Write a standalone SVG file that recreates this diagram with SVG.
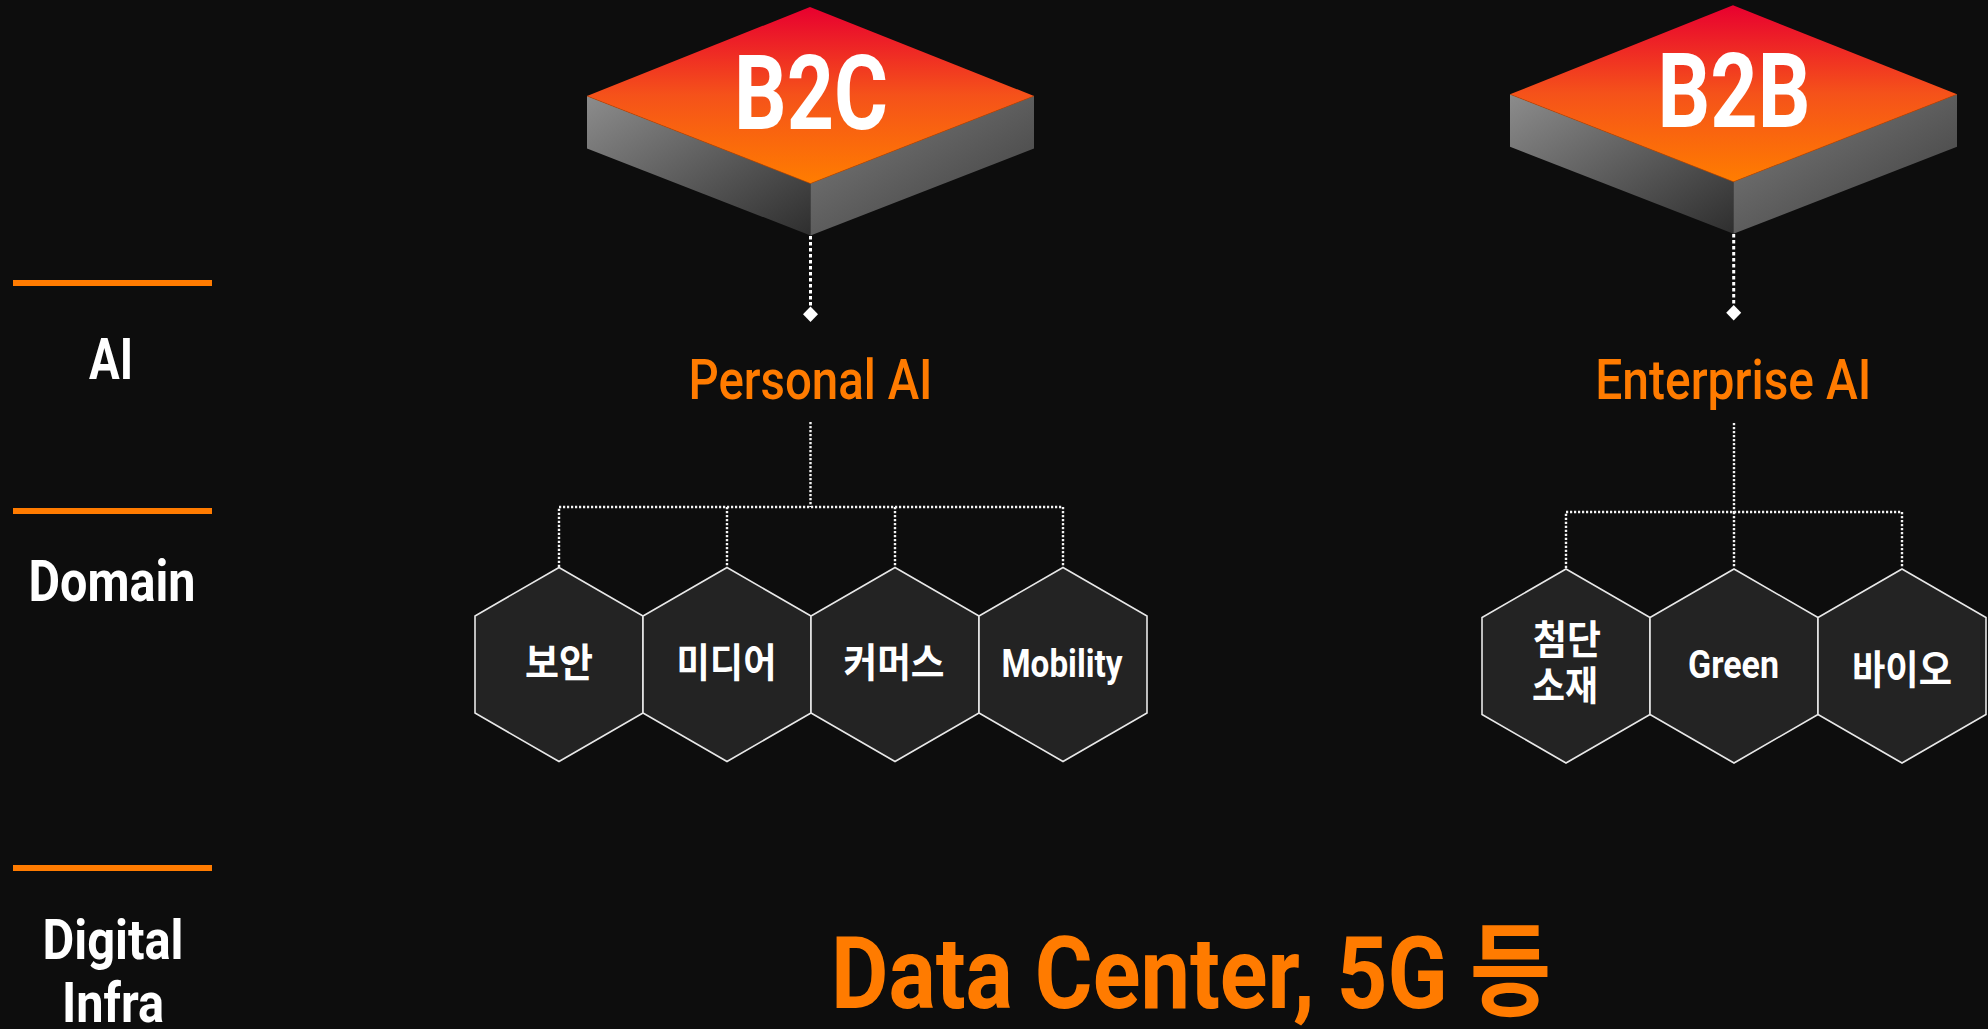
<svg xmlns="http://www.w3.org/2000/svg" width="1988" height="1029" viewBox="0 0 1988 1029">
<style>
.lat{font-family:"Liberation Sans Narrow","Roboto","Liberation Sans","Noto Sans CJK KR",sans-serif;font-weight:bold}
.med{font-weight:500}
.kor{font-family:"Noto Sans CJK KR","Noto Sans CJK SC",sans-serif;font-weight:bold}
.w{fill:#ffffff}
.o{fill:#ff7b00}
.hex{fill:#232323;stroke:#e8e8e8;stroke-width:1.6}
.bar{fill:#ff7b00}
.dotA{stroke:#ffffff;stroke-width:3;stroke-dasharray:3.5 2.5;fill:none}
.dotB{stroke:#f2f2f2;stroke-width:2.4;stroke-dasharray:2.2 1.8;fill:none}
</style>
<defs>
<linearGradient id="gTop" x1="0" y1="0" x2="0" y2="1">
<stop offset="0" stop-color="#e8002f"/>
<stop offset="0.5" stop-color="#f5521a"/>
<stop offset="1" stop-color="#ff7d00"/>
</linearGradient>
<linearGradient id="gLeft" x1="0" y1="0" x2="1" y2="1">
<stop offset="0" stop-color="#8c8c8c"/>
<stop offset="1" stop-color="#2e2e2e"/>
</linearGradient>
<linearGradient id="gRight" x1="0" y1="0" x2="1" y2="1">
<stop offset="0" stop-color="#7e7e7e"/>
<stop offset="1" stop-color="#3c3c3c"/>
</linearGradient>
<g id="slab">
<polygon points="0,89 223.5,176.5 223.5,228.5 0,141.5" fill="url(#gLeft)"/>
<polygon points="223.5,176.5 447,89 447,141.5 223.5,228.5" fill="url(#gRight)"/>
<polygon points="223,0 447,89 223.5,176.5 0,89" fill="url(#gTop)"/>
<polyline points="0,89 223.5,176.5 447,89" fill="none" stroke="#c94a00" stroke-width="0.8" opacity="0.7"/>
</g>
</defs>
<rect width="1988" height="1029" fill="#0d0d0d"/>

<g id="legend">
<rect class="bar" x="13" y="280" width="199" height="6"/>
<rect class="bar" x="13" y="508" width="199" height="6"/>
<rect class="bar" x="13" y="865" width="199" height="6"/>
<text class="lat w" x="111" y="379" font-size="57" text-anchor="middle" textLength="44" lengthAdjust="spacingAndGlyphs">AI</text>
<text class="lat w" x="112" y="601" font-size="57" text-anchor="middle" textLength="167" lengthAdjust="spacingAndGlyphs">Domain</text>
<text class="lat w" x="113" y="959" font-size="56" text-anchor="middle" textLength="141" lengthAdjust="spacingAndGlyphs">Digital</text>
<text class="lat w" x="113" y="1022" font-size="56" text-anchor="middle" textLength="102" lengthAdjust="spacingAndGlyphs">Infra</text>
</g>

<g id="b2c">
<use href="#slab" x="587" y="7"/>
<text class="lat w" x="811" y="129" font-size="103" text-anchor="middle" textLength="154" lengthAdjust="spacingAndGlyphs">B2C</text>
</g>
<g id="b2b">
<use href="#slab" x="1510" y="5.3"/>
<text class="lat w" x="1734" y="127" font-size="103" text-anchor="middle" textLength="153" lengthAdjust="spacingAndGlyphs">B2B</text>
</g>

<g id="personal-ai">
<text class="lat med o" x="810.5" y="399" font-size="56" text-anchor="middle" textLength="244" lengthAdjust="spacingAndGlyphs">Personal AI</text>
</g>
<g id="enterprise-ai">
<text class="lat med o" x="1733.3" y="399" font-size="56" text-anchor="middle" textLength="276" lengthAdjust="spacingAndGlyphs">Enterprise AI</text>
</g>

<g id="connectors">
<line class="dotA" x1="810.5" y1="236" x2="810.5" y2="307"/>
<polygon points="810.5,306.5 818,314.3 810.5,322 803,314.3" fill="#ffffff"/>
<line class="dotA" x1="1733.7" y1="234" x2="1733.7" y2="305"/>
<polygon points="1733.7,305 1741.2,312.7 1733.7,320.4 1726.2,312.7" fill="#ffffff"/>
<line class="dotB" x1="810.5" y1="422" x2="810.5" y2="507"/>
<polyline class="dotB" points="559,567 559,507 1063,507 1063,567"/>
<line class="dotB" x1="727" y1="507" x2="727" y2="567"/>
<line class="dotB" x1="895" y1="507" x2="895" y2="567"/>
<line class="dotB" x1="1734" y1="423" x2="1734" y2="512"/>
<polyline class="dotB" points="1566,568 1566,512 1902,512 1902,568"/>
<line class="dotB" x1="1734" y1="512" x2="1734" y2="568"/>
</g>

<g id="hex-security">
<polygon class="hex" points="559,567.5 643,616 643,713 559,761.5 475,713 475,616"/>
<text class="kor w" x="559" y="677" font-size="40" text-anchor="middle" textLength="68" lengthAdjust="spacingAndGlyphs">보안</text>
</g>
<g id="hex-media">
<polygon class="hex" points="727,567.5 811,616 811,713 727,761.5 643,713 643,616"/>
<text class="kor w" x="726.5" y="677" font-size="40" text-anchor="middle" textLength="100" lengthAdjust="spacingAndGlyphs">미디어</text>
</g>
<g id="hex-commerce">
<polygon class="hex" points="895,567.5 979,616 979,713 895,761.5 811,713 811,616"/>
<text class="kor w" x="894" y="677" font-size="40" text-anchor="middle" textLength="101" lengthAdjust="spacingAndGlyphs">커머스</text>
</g>
<g id="hex-mobility">
<polygon class="hex" points="1063,567.5 1147,616 1147,713 1063,761.5 979,713 979,616"/>
<text class="lat w" x="1062" y="677" font-size="39" text-anchor="middle" textLength="121" lengthAdjust="spacingAndGlyphs">Mobility</text>
</g>

<g id="hex-materials">
<polygon class="hex" points="1566,569 1650,617.5 1650,714.5 1566,763 1482,714.5 1482,617.5"/>
<text class="kor w" font-size="40" text-anchor="middle"><tspan x="1567" y="654" textLength="68" lengthAdjust="spacingAndGlyphs">첨단</tspan><tspan x="1565" y="700" textLength="66" lengthAdjust="spacingAndGlyphs">소재</tspan></text>
</g>
<g id="hex-green">
<polygon class="hex" points="1734,569 1818,617.5 1818,714.5 1734,763 1650,714.5 1650,617.5"/>
<text class="lat w" x="1733.5" y="678" font-size="39" text-anchor="middle" textLength="91" lengthAdjust="spacingAndGlyphs">Green</text>
</g>
<g id="hex-bio">
<polygon class="hex" points="1902,569 1986,617.5 1986,714.5 1902,763 1818,714.5 1818,617.5"/>
<text class="kor w" x="1902" y="684" font-size="40" text-anchor="middle" textLength="100" lengthAdjust="spacingAndGlyphs">바이오</text>
</g>

<g id="infra">
<text class="lat o" x="1191" y="1008" font-size="101" text-anchor="middle" textLength="720" lengthAdjust="spacingAndGlyphs">Data Center, 5G 등</text>
</g>
</svg>
